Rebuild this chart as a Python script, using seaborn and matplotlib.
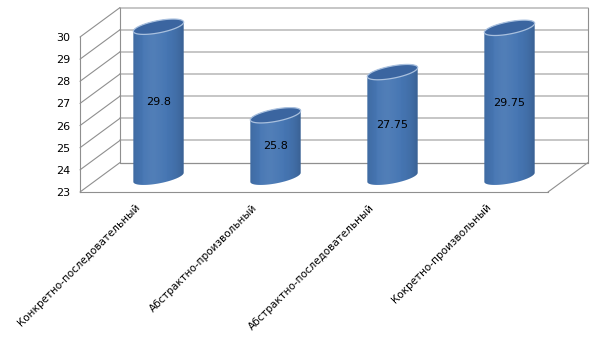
import numpy as np
import pandas as pd
import matplotlib
matplotlib.use("Agg")
import matplotlib.pyplot as plt
from matplotlib.path import Path
from matplotlib.patches import Polygon
import seaborn as sns

# ---- data ----
categories = ["Конкретно-последовательный", "Абстрактно-произвольный",
              "Абстрактно-последовательный", "Кокретно-произвольный"]
values = [29.8, 25.8, 27.75, 29.75]
value_labels = ["29.8", "25.8", "27.75", "29.75"]
y_ticks = [23, 24, 25, 26, 27, 28, 29, 30]

sns.set_style("white")
plt.rcParams["font.family"] = ["DejaVu Sans"]

BODY = "#4676b3"
TOP = "#3b65a0"
GRID = "#c6c6c6"
EDGE = "#8f8f8f"

fig = plt.figure(figsize=(6.05, 3.40), dpi=100)
ax = fig.add_axes([0, 0, 1, 1])

df = pd.DataFrame({"cat": categories, "val": values})
sns.barplot(data=df, x="cat", y="val", color=BODY, saturation=1,
            width=0.4, edgecolor="none", ax=ax, zorder=3)

ymin, ymax = y_ticks[0], y_ticks[-1]
x0, x1 = -0.5, len(categories) - 0.5
DX, DY = 0.342, 1.33          # depth of the 3D box (data units)
OX, OY = DX / 2, DY / 2       # cylinders stand at mid depth
A = 0.215                     # cylinder half width
B = 0.28                      # ellipse half height
K = 0.95                      # tilt of the ellipses

# ---- 3D box: back wall, side wall, floor ----
for t in y_ticks:
    col = EDGE if t == ymin else GRID
    lw = 0.9 if t == ymin else 1.4
    ax.plot([x0 + DX, x1 + DX], [t + DY, t + DY], color=col, lw=lw, zorder=1)
    ax.plot([x0, x0 + DX], [t, t + DY], color=EDGE, lw=0.8, zorder=1)
for xx in (x0 + DX, x1 + DX):
    ax.plot([xx, xx], [ymin + DY, ymax + DY], color=EDGE, lw=0.8, zorder=1)
ax.plot([x1, x1 + DX], [ymin, ymin + DY], color=EDGE, lw=0.8, zorder=1)


def ellipse_pts(cx, cy, t):
    return np.column_stack([cx + A * np.cos(t),
                            cy + B * np.sin(t) + K * A * np.cos(t)])


shade = np.linspace(0, 1, 200)
rgba = np.zeros((1, 200, 4))
dark = np.clip((np.abs(shade - 0.45) / 0.55) ** 3, 0, 1) * 0.18
light = np.exp(-((shade - 0.4) / 0.2) ** 2) * 0.06
rgba[0, :, 0:3] = np.where(light[:, None] > dark[:, None], 1.0, 0.0)
rgba[0, :, 3] = np.maximum(light, dark)

for i, (patch, v, lab) in enumerate(zip(ax.patches, values, value_labels)):
    cx = i + OX
    cb, ct = ymin + OY, v + OY
    lower = ellipse_pts(cx, cb, np.linspace(np.pi, 2 * np.pi, 60))
    upper = ellipse_pts(cx, ct, np.linspace(0, np.pi, 60))
    outline = np.vstack([lower, upper, lower[:1]])
    clip = Path(outline, closed=True)
    pad = B + K * A + 0.1
    patch.set_x(cx - A)
    patch.set_width(2 * A)
    patch.set_y(cb - pad)
    patch.set_height(ct - cb + 2 * pad)
    patch.set_clip_path(clip, ax.transData)

    im = ax.imshow(rgba, extent=[cx - A, cx + A, cb - pad, ct + pad],
                   aspect="auto", zorder=4, interpolation="bilinear")
    im.set_clip_path(clip, ax.transData)

    top = ellipse_pts(cx, ct, np.linspace(0, 2 * np.pi, 120))
    ax.add_patch(Polygon(top, closed=True, facecolor=TOP,
                         edgecolor="#a9c0de", lw=0.9, zorder=5))
    ax.text(cx, (v + ymin) / 2 + OY, lab, ha="center", va="center",
            fontsize=8, color="black", zorder=6)

# ---- axes mapping (pixels -> data) ----
ax.set_xlim(-1.1838, 3.9872)
ax.set_ylim(16.315, 31.672)
ax.set_yticks(y_ticks)
ax.set_yticklabels([str(t) for t in y_ticks])
ax.set_xlabel("")
ax.set_ylabel("")
for s in ("top", "right"):
    ax.spines[s].set_visible(False)
ax.spines["left"].set_position(("data", x0))
ax.spines["left"].set_bounds(ymin, ymax)
ax.spines["bottom"].set_position(("data", ymin))
ax.spines["bottom"].set_bounds(x0, x1)
for s in ("left", "bottom"):
    ax.spines[s].set_color(EDGE)
    ax.spines[s].set_linewidth(0.8)
ax.tick_params(axis="y", length=0, pad=7, labelsize=8, labelcolor="black")
ax.tick_params(axis="x", length=0, pad=10, labelsize=7.5, labelcolor="black")
for lbl in ax.get_xticklabels():
    lbl.set_rotation(45)
    lbl.set_ha("right")
    lbl.set_va("center")
    lbl.set_rotation_mode("anchor")
ax.patch.set_alpha(0)

fig.savefig("out.png", dpi=100, facecolor="white")
